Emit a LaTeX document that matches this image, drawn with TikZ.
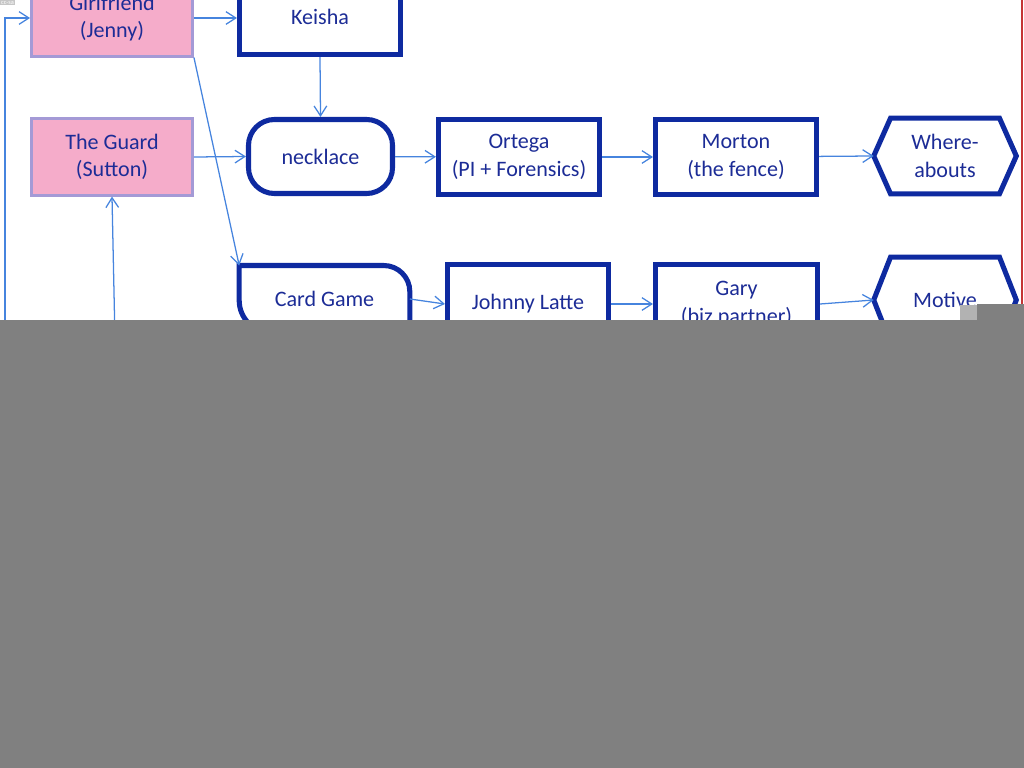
\documentclass[tikz,border=0pt]{standalone}
\usepackage{fontspec}
\setmainfont{Carlito}
\usetikzlibrary{arrows.meta}

\definecolor{boxblue}{RGB}{14,42,160}
\definecolor{textblue}{RGB}{28,44,150}
\definecolor{linkblue}{RGB}{70,132,222}
\definecolor{pinkfill}{RGB}{245,172,202}
\definecolor{lavender}{RGB}{164,154,214}
\definecolor{edgered}{RGB}{196,52,52}

\tikzset{
    every node/.style={font=\fontsize{15.7}{19.5}\selectfont, text=textblue, align=center},
    pinkbox/.style={draw=lavender, fill=pinkfill, line width=1.9pt,
        minimum width=4.03cm, minimum height=1.91cm},
    boxline/.style={draw=boxblue, line width=3.6pt},
    bluebox/.style={boxline, fill=white, minimum width=4.025cm, minimum height=1.875cm},
    link/.style={draw=linkblue, line width=0.9pt, -{Straight Barb[length=7pt, width=9pt]}},
}

\begin{document}
\begin{tikzpicture}[x=0.025cm, y=0.025cm]
    \useasboundingbox (0,0) rectangle (1024,-768);

    % right border line
    \draw [edgered, line width=1.4pt] (1022,0) -- (1022,-330);

    % people and things
    \node [pinkbox] (jenny) at (112,-18) {Girlfriend\\(Jenny)};
    \node [pinkbox] (guard) at (112,-157) {The Guard\\(Sutton)};
    \node [bluebox] (keisha) at (320,-17) {Keisha};
    \node [bluebox, minimum width=3.6cm, minimum height=1.85cm,
        rounded corners=0.65cm] (necklace) at (320.5,-156.5) {necklace};
    \node [bluebox] (ortega) at (519,-157) {Ortega\\(PI + Forensics)};
    \node [bluebox] (morton) at (736,-157) {Morton\\(the fence)};
    \node [minimum width=3.55cm, minimum height=1.875cm] (where) at (945,-156) {Where-\\abouts};

    \node [minimum width=4.25cm, minimum height=1.66cm] (cards) at (324.5,-299) {Card Game};
    \node [bluebox, minimum height=1.975cm] (latte) at (528,-304) {Johnny Latte};
    \node [bluebox, minimum width=4.05cm, minimum height=1.975cm] (gary) at (736.5,-304) {Gary\\(biz partner)};
    \node [minimum width=3.55cm, minimum height=2.125cm] (motive) at (945,-300) {Motive};

    % odd shapes
    \draw [boxline] (cards.north west) -- ([xshift=-0.65cm]cards.north east)
        arc [start angle=90, end angle=0, radius=0.65cm] -- (cards.south east)
        -- ([xshift=0.8cm]cards.south west)
        arc [start angle=270, end angle=180, radius=0.8cm] -- cycle;
    \foreach \n in {where, motive} {
        \draw [boxline] (\n.west) -- ([xshift=0.42cm]\n.north west)
            -- ([xshift=-0.42cm]\n.north east) -- (\n.east)
            -- ([xshift=-0.42cm]\n.south east) -- ([xshift=0.42cm]\n.south west) -- cycle;
    }

    % connectors
    \coordinate (loopfoot) at (5,-340);
    \coordinate (guardfoot) at (115,-340);
    \draw [link] (loopfoot) |- (jenny.west);
    \draw [link] (guardfoot) -- (guard.south);
    \draw [link] (jenny.east) -- (jenny.east -| keisha.west);
    \draw [link] (jenny.south east) -- (cards.north west);
    \draw [link] (keisha.south) -- (necklace.north);
    \draw [link] (guard.east) -- (necklace.west);
    \draw [link] (necklace) -- (ortega);
    \draw [link] (ortega) -- (morton);
    \draw [link] (morton) -- (where.west);
    \draw [link] (cards.east) -- (latte.west);
    \draw [link] (latte) -- (gary);
    \draw [link] (gary.east) -- (motive.west);

    % grey cover
    \fill [gray!60] (960,-305) rectangle (977,-320);
    \fill [gray] (977,-304) rectangle (1024,-320);
    \fill [gray] (0,-320) rectangle (1024,-768);

    \node [anchor=north west, fill=gray!45, text=white, inner sep=0.6pt,
        font=\fontsize{4.5}{5}\selectfont] (tag) at (0,0) {cc-sa};
\end{tikzpicture}
\end{document}
